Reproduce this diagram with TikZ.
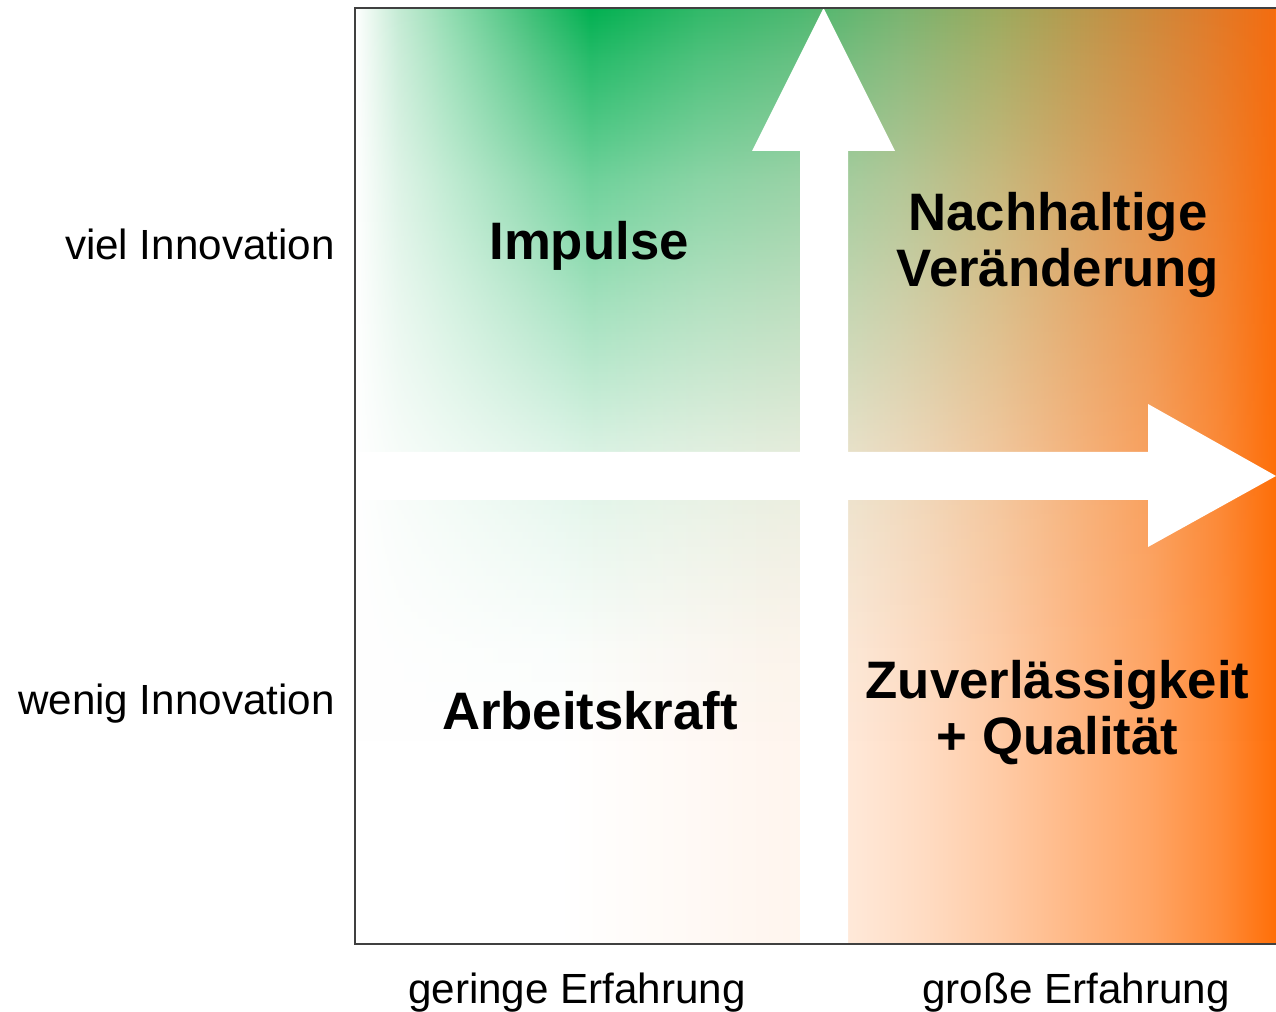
\documentclass[tikz,border=0pt]{standalone}
\usepackage{fontspec}
\setmainfont{Liberation Sans}
\usepackage{pgf, tikz}
\usetikzlibrary{fadings}

\definecolor{gruen}{RGB}{0,176,80}
\definecolor{orng}{RGB}{255,106,0}
\definecolor{topA}{HTML}{C4EBD4}
\definecolor{topB}{HTML}{90DCB0}
\definecolor{topC}{HTML}{40C078}
\definecolor{topD}{HTML}{30B868}
\definecolor{topE}{HTML}{4CB870}
\definecolor{topF}{HTML}{78B470}
\definecolor{topG}{HTML}{9CAA5E}
\definecolor{topH}{HTML}{BE9448}
\definecolor{topI}{HTML}{DC7E2E}
\definecolor{topJ}{HTML}{F46C10}

\pgfdeclarehorizontalshading{baseramp}{100bp}{color(0bp)=(white); color(36bp)=(white); color(49.2bp)=(orng!7!white); color(51.8bp)=(orng!15!white); color(56bp)=(orng!24!white); color(60bp)=(orng!35!white); color(68.2bp)=(orng!61!white); color(72bp)=(orng!78!white); color(75bp)=(orng!97!white); color(100bp)=(orng)}
\pgfdeclarehorizontalshading{toprow}{100bp}{color(0bp)=(white); color(25bp)=(white); color(27.4bp)=(topA); color(30.2bp)=(topB); color(34.5bp)=(topC); color(37.8bp)=(gruen); color(43.7bp)=(topD); color(49.2bp)=(topE); color(54.6bp)=(topF); color(60bp)=(topG); color(65.5bp)=(topH); color(70.9bp)=(topI); color(75bp)=(topJ); color(100bp)=(topJ)}
\pgfdeclareverticalshading{greenfadeshade}{100bp}{color(0bp)=(black); color(35.4bp)=(black); color(40.7bp)=(black!98); color(47.6bp)=(black!91); color(51.4bp)=(black!85); color(59.4bp)=(black!63); color(65.8bp)=(black!43); color(72.2bp)=(black!15); color(75bp)=(white); color(100bp)=(white)}
\pgfdeclarefading{greenfade}{\pgfuseshading{greenfadeshade}}

\begin{document}
\begin{tikzpicture}[
  seitenlabel/.style={font=\fontsize{24}{28}\selectfont, inner sep=0pt},
  feldlabel/.style={font=\bfseries\fontsize{30}{32.4}\selectfont, align=center}]
\useasboundingbox (0,0) rectangle (25.52,20.24);
\shade[shading=baseramp] (7.1,1.36) rectangle (25.52,20.08);
\shade[shading=toprow, path fading=greenfade] (7.1,1.36) rectangle (25.52,20.08);
\fill[white] (16,1.36) -- (16,17.22) -- (15.04,17.22) -- (16.47,20.08) -- (17.9,17.22) -- (16.96,17.22) -- (16.96,1.36) -- cycle;
\fill[white] (7.1,11.2) -- (22.96,11.2) -- (22.96,12.16) -- (25.52,10.72) -- (22.96,9.3) -- (22.96,10.24) -- (7.1,10.24) -- cycle;
\draw[line width=0.8pt, black!75] (25.52,20.08) -- (7.1,20.08) -- (7.1,1.36) -- (25.52,1.36);
\node[seitenlabel, anchor=base east] (viel) at (6.7,15.04) {viel Innovation};
\node[seitenlabel, anchor=base east] (wenig) at (6.7,5.94) {wenig Innovation};
\node[seitenlabel, anchor=base] (gering) at (11.54,0.16) {geringe Erfahrung};
\node[seitenlabel, anchor=base] (gross) at (21.52,0.16) {große Erfahrung};
\node[feldlabel, anchor=base] (impulse) at (11.78,15.04) {Impulse};
\node[feldlabel, anchor=base] (nachhaltig) at (21.16,14.5) {Nachhaltige\\Veränderung};
\node[feldlabel, anchor=base] (arbeit) at (11.8,5.64) {Arbeitskraft};
\node[feldlabel, anchor=base] (qualitaet) at (21.15,5.14) {Zuverlässigkeit\\+ Qualität};
\end{tikzpicture}
\end{document}
